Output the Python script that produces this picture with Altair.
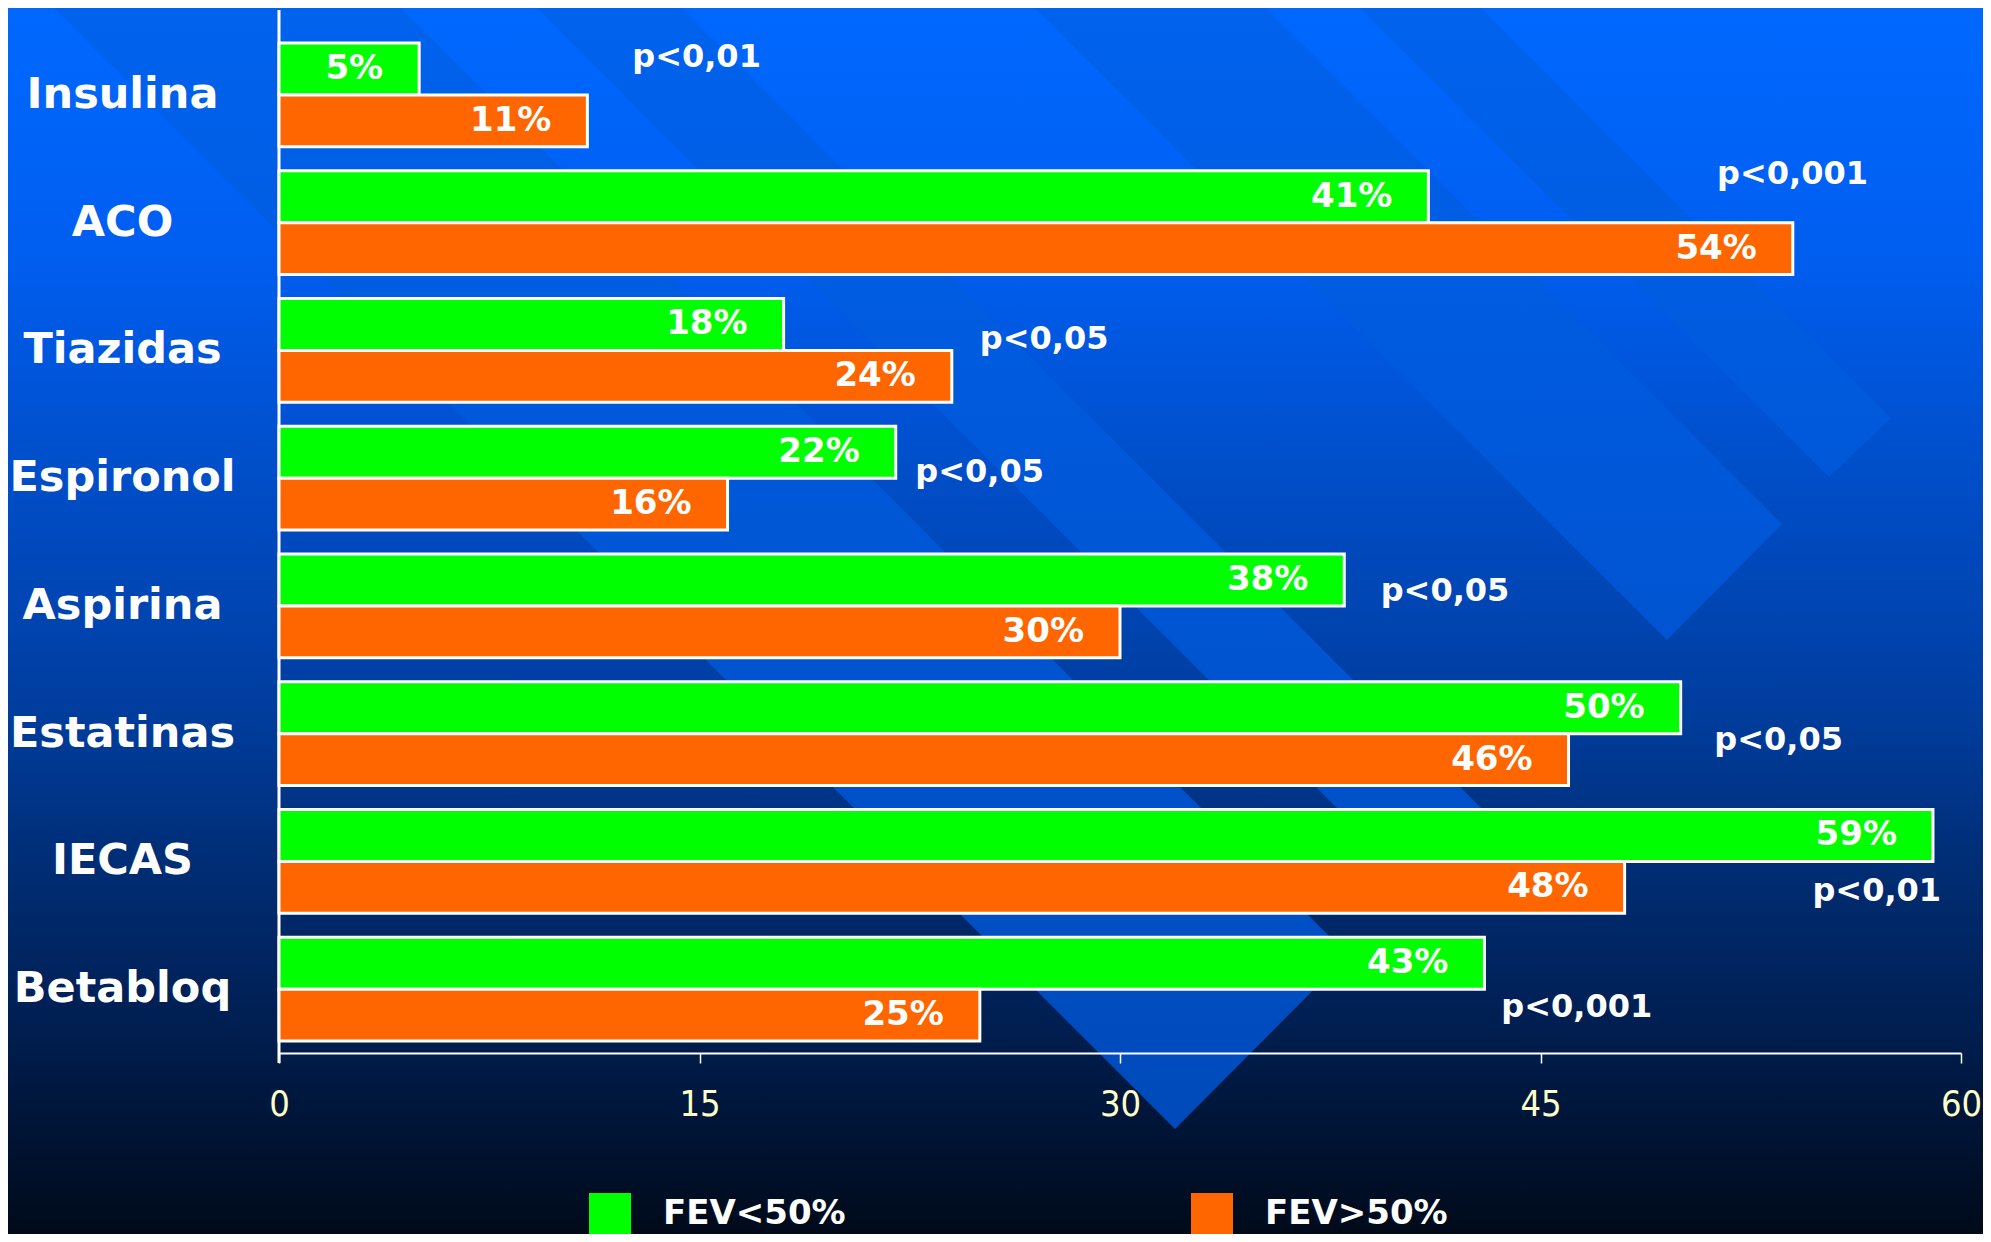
import altair as alt
import pandas as pd

# ---------------- data ----------------
categories = ["Insulina", "ACO", "Tiazidas", "Espironol", "Aspirina", "Estatinas", "IECAS", "Betabloq"]
groups = ["FEV<50%", "FEV>50%"]
fev_lt50 = [5, 41, 18, 22, 38, 50, 59, 43]
fev_gt50 = [11, 54, 24, 16, 30, 46, 48, 25]
p_values = ["p<0,01", "p<0,001", "p<0,05", "p<0,05", "p<0,05", "p<0,05", "p<0,01", "p<0,001"]
# where each p-value annotation sits: x in axis units, vertical shift in rows
p_label_x = [12.6, 51.3, 25.0, 22.7, 39.3, 51.2, 54.7, 43.6]
p_label_row_shift = [-0.30, -0.38, -0.09, -0.05, -0.12, 0.05, 0.23, 0.14]
x_ticks = [0, 15, 30, 45, 60]
bar_colors = ["#00ff00", "#ff6600"]

# ---------------- layout ----------------
W, H = 1682, 1022
PAD = {"left": 271, "top": 23, "right": 22, "bottom": 181}
FONT = "DejaVu Sans"

rows = []
for c, a, b in zip(categories, fev_lt50, fev_gt50):
    rows.append({"cat": c, "group": groups[0], "value": a, "label": f"{a}%"})
    rows.append({"cat": c, "group": groups[1], "value": b, "label": f"{b}%"})
bars_df = pd.DataFrame(rows)

p_df = pd.DataFrame({
    "cat": categories,
    "p": p_values,
    "px": p_label_x,
    "prow": [i + s for i, s in enumerate(p_label_row_shift)],
})

one = pd.DataFrame({"k": [0]})

# ---------------- decorative background ----------------
bg_grad = {
    "gradient": "linear", "x1": 0, "y1": 0, "x2": 0, "y2": 1,
    "stops": [
        {"offset": 0.0, "color": "#0068ff"},
        {"offset": 0.2, "color": "#005ef0"},
        {"offset": 0.4, "color": "#004cc4"},
        {"offset": 0.5, "color": "#0044b0"},
        {"offset": 0.6, "color": "#003a96"},
        {"offset": 0.7, "color": "#002d74"},
        {"offset": 0.8, "color": "#00225a"},
        {"offset": 0.9, "color": "#00163a"},
        {"offset": 1.0, "color": "#000a1a"},
    ],
}
background = alt.Chart(one).mark_rect(fill=bg_grad, strokeWidth=0).encode(
    x=alt.value(-PAD["left"]), x2=alt.value(W + PAD["right"]),
    y=alt.value(-PAD["top"]), y2=alt.value(H + PAD["bottom"]),
)

# diagonal ribbons (page pixel geometry of the slide template)
ribbons = [
    [(1352, 0), (1473, 0), (1891, 418), (1829, 477)],
    [(1027, 0), (1258, 0), (1782, 524), (1667, 640)],
    [(529, 0), (674, 0), (1501, 828), (1429, 900)],
    [(46, 0), (393, 0), (1348, 955), (1175, 1129)],
]


def band_color(y):
    t = max(0.0, min(1.0, y / 1130.0))
    g = round(98 + (74 - 98) * t)
    b = round(238 + (186 - 238) * t)
    return f"#00{g:02x}{b:02x}"


def poly_to_area(poly):
    xs = sorted(set(p[0] for p in poly))
    out = []
    n = len(poly)
    for x in xs:
        ys = []
        for i in range(n):
            (x0, y0), (x1, y1) = poly[i], poly[(i + 1) % n]
            if x0 == x1:
                if x == x0:
                    ys += [y0, y1]
            elif min(x0, x1) <= x <= max(x0, x1):
                ys.append(y0 + (y1 - y0) * (x - x0) / (x1 - x0))
        out.append({"x": x, "y1": min(ys), "y2": max(ys)})
    return pd.DataFrame(out)


px_scale = alt.Scale(domain=[0, 1991], range=[-PAD["left"] - 8, 1991 - PAD["left"] - 8], nice=False, zero=False)
py_scale = alt.Scale(domain=[0, 1242], range=[-PAD["top"] - 8, 1242 - PAD["top"] - 8], nice=False, zero=False)

ribbon_layers = []
for poly in ribbons:
    ymax = max(p[1] for p in poly)
    grad = {
        "gradient": "linear", "x1": 0, "y1": 0, "x2": 0, "y2": 1,
        "stops": [{"offset": 0, "color": band_color(0)}, {"offset": 1, "color": band_color(ymax)}],
    }
    ribbon_layers.append(
        alt.Chart(poly_to_area(poly)).mark_area(fill=grad, strokeWidth=0, opacity=1).encode(
            x=alt.X("x:Q", scale=px_scale, axis=None),
            y=alt.Y("y1:Q", scale=py_scale, axis=None),
            y2="y2:Q",
        )
    )

# ---------------- chart ----------------
x_scale = alt.Scale(domain=[0, 60], nice=False, zero=True)
y_scale = alt.Scale(domain=categories, paddingInner=0.186, paddingOuter=0.093)
yoff = alt.YOffset("group:N", sort=groups, scale=alt.Scale(domain=groups, paddingInner=0, paddingOuter=0))

vline = alt.Chart(one).mark_rule(color="white", strokeWidth=3).encode(
    x=alt.value(0), y=alt.value(-21), y2=alt.value(H + 10)
)

bars = alt.Chart(bars_df).mark_bar(stroke="white", strokeWidth=3, opacity=1).encode(
    x=alt.X("value:Q", scale=x_scale, axis=alt.Axis(
        values=x_ticks, title=None, grid=False, domainColor="white", domainWidth=2,
        tickColor="white", tickSize=10, tickWidth=1.5, labelFlush=False, zindex=2,
        labelColor="#ffffc8", labelFont="Liberation Sans Narrow, DejaVu Sans Condensed, sans-serif",
        labelFontSize=36, labelPadding=24,
    )),
    y=alt.Y("cat:N", sort=categories, scale=y_scale, axis=alt.Axis(
        title=None, domain=False, ticks=False, labelAlign="center", labelBaseline="middle",
        labelPadding=157, labelFont=FONT, labelFontWeight="bold", labelFontSize=43,
        labelColor="white", labelLimit=400, zindex=2,
    )),
    yOffset=yoff,
    color=alt.Color("group:N", sort=groups, scale=alt.Scale(domain=groups, range=bar_colors), legend=alt.Legend(
        orient="none", legendX=310, legendY=1162, direction="horizontal", title=None,
        symbolType="square", symbolSize=1764, symbolStrokeWidth=0, symbolOpacity=1,
        labelFont=FONT, labelFontWeight="bold", labelFontSize=34, labelColor="white",
        labelOffset=32, columnPadding=345, labelLimit=500,
    )),
)

value_text = alt.Chart(bars_df).mark_text(
    align="right", baseline="middle", dx=-36, font=FONT, fontWeight="bold", fontSize=34, color="white"
).encode(
    x=alt.X("value:Q", scale=x_scale, axis=None),
    y=alt.Y("cat:N", sort=categories, scale=y_scale, axis=None),
    yOffset=yoff,
    text="label:N",
)

p_text = alt.Chart(p_df).mark_text(
    align="left", baseline="middle", font=FONT, fontWeight="bold", fontSize=32, color="white"
).encode(
    x=alt.X("px:Q", scale=x_scale, axis=None),
    y=alt.Y("prow:Q", scale=alt.Scale(domain=[-0.5, 7.5], range=[0, H], nice=False, zero=False), axis=None),
    text="p:N",
)

chart = alt.layer(
    background, *ribbon_layers, vline, bars, value_text, p_text
).resolve_scale(
    x="independent", y="independent"
).properties(
    width=W, height=H,
    padding=PAD,
    autosize=alt.AutoSizeParams(type="none"),
    background="#00163a",
).configure_view(stroke=None)

chart.save("out.html", embed_options={"renderer": "svg", "actions": False})
